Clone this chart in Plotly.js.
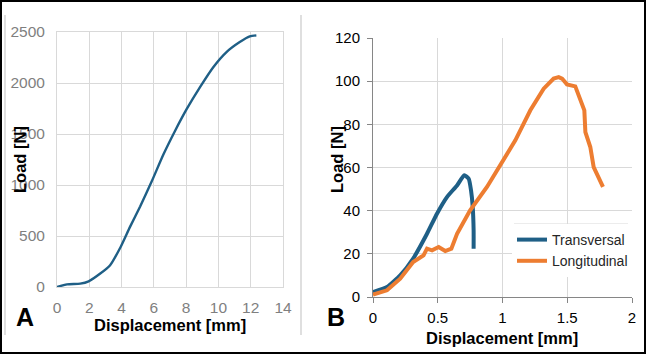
<!DOCTYPE html>
<html><head><meta charset="utf-8">
<script src="https://cdn.plot.ly/plotly-3.0.1.min.js"></script>
<style>html,body{margin:0;padding:0;background:#fff}#c{width:646px;height:354px}</style>
</head><body><div id="c"></div>
<script>
// Panel A
const aDisp = [0,0.62,1.44,1.96,2.68,3.29,3.95,4.53,5.15,5.87,6.59,7.31,8.03,8.85,9.68,10.5,11.32,11.94,12.35];
const aLoad = [0,26,33,56,132,214,395,592,790,1036,1299,1530,1743,1957,2155,2303,2401,2457,2467];
// Panel B
const tDisp = [0,0.108,0.21,0.31,0.417,0.494,0.571,0.649,0.705,0.739,0.757,0.77,0.777,0.777];
const tLoad = [2.3,4.6,10,17.8,29.3,38.6,46.3,51.7,56.4,54.8,49.4,41.7,30.9,22.4];
const lDisp = [0,0.108,0.21,0.31,0.39,0.417,0.456,0.507,0.558,0.605,0.649,0.75,0.88,1.009,1.099,1.215,1.318,1.395,1.434,1.46,1.498,1.562,1.601,1.632,1.64,1.678,1.704,1.743,1.776];
const lLoad = [1.1,3.1,8.5,16.2,19.3,22.4,21.6,23.2,21.3,22.4,29.3,40.2,51,63.3,72.6,86.5,96.5,101.2,101.9,101.2,98.5,97.6,91.9,86.5,76.4,69.5,60.2,55.6,51];
const seriesNames = ['Transversal','Longitudinal'];

const W=646,H=354;
const px=x=>x/W, py=y=>(H-y)/H;
const F='"Liberation Sans", Arial, sans-serif';
const blue='#1F5F86', orange='#ED7D31';

const traces=[
 {x:aDisp,y:aLoad,xaxis:'x',yaxis:'y',mode:'lines',line:{color:blue,width:2.4,shape:'spline',smoothing:0.6},showlegend:false,hoverinfo:'skip'},
 {x:tDisp,y:tLoad,xaxis:'x2',yaxis:'y2',mode:'lines',name:seriesNames[0],line:{color:blue,width:4,shape:'spline',smoothing:0.5}},
 {x:lDisp,y:lLoad,xaxis:'x2',yaxis:'y2',mode:'lines',name:seriesNames[1],line:{color:orange,width:4}}
];
const grid='#d9d9d9';
const ann=(t,x,y,s,a)=>({text:t,x:px(x),y:py(y),xref:'paper',yref:'paper',xanchor:'center',yanchor:'middle',showarrow:false,textangle:a||0,font:{size:s,color:'#000',family:F}});
const layout={
 width:W,height:H,margin:{l:0,r:0,t:0,b:0},paper_bgcolor:'#fff',plot_bgcolor:'#fff',
 font:{family:F},
 xaxis:{domain:[px(57),px(283)],range:[0,14],dtick:2,showgrid:true,gridcolor:grid,zeroline:false,
   showline:true,linecolor:grid,mirror:true,ticks:'',ticklabelstandoff:6,tickfont:{size:15.5,color:'#7f7f7f',family:F},anchor:'y',fixedrange:true},
 yaxis:{domain:[py(287),py(32)],range:[0,2500],dtick:500,showgrid:true,gridcolor:grid,zeroline:false,
   showline:true,linecolor:grid,mirror:true,ticks:'',ticklabelstandoff:8,tickfont:{size:15.5,color:'#7f7f7f',family:F},anchor:'x',fixedrange:true},
 xaxis2:{domain:[px(373),px(632)],range:[0,2],dtick:0.5,showgrid:true,gridcolor:grid,zeroline:false,
   showline:true,linecolor:'#868686',ticks:'outside',ticklen:5,tickcolor:'#868686',ticklabelstandoff:2,tickfont:{size:15,color:'#000',family:F},anchor:'y2',fixedrange:true},
 yaxis2:{domain:[py(297),py(38)],range:[0,120],dtick:20,showgrid:true,gridcolor:grid,zeroline:false,
   showline:true,linecolor:'#868686',ticks:'outside',ticklen:5,tickcolor:'#868686',ticklabelstandoff:4,tickfont:{size:15,color:'#000',family:F},anchor:'x2',fixedrange:true},
 showlegend:true,
 legend:{x:px(512),y:py(224),xanchor:'left',yanchor:'top',bgcolor:'#fff',borderwidth:0,
   font:{size:14,color:'#262626',family:F},itemwidth:30,tracegroupgap:0},
 annotations:[
  ann('<b>Displacement [mm]</b>',170,325,16.5),
  ann('<b>Load [N]</b>',20,160,16.5,-90),
  ann('<b>Displacement [mm]</b>',502,338,16.5),
  ann('<b>Load [N]</b>',337,160,16.5,-90),
  ann('<b>A</b>',25,317,25),
  ann('<b>B</b>',336,317,25)
 ],
 shapes:[
  {type:'rect',xref:'paper',yref:'paper',x0:0,x1:1,y0:0,y1:1,line:{color:'#000',width:4},layer:'above'},
  {type:'line',xref:'paper',yref:'paper',x0:px(5),x1:px(5),y0:py(335),y1:py(15),line:{color:'#bfbfbf',width:1}},
  {type:'line',xref:'paper',yref:'paper',x0:px(301),x1:px(301),y0:py(335),y1:py(15),line:{color:'#bfbfbf',width:1}},
  {type:'line',xref:'paper',yref:'paper',x0:px(514),x1:px(628),y0:py(224),y1:py(224),line:{color:grid,width:1},layer:'above'}
 ]
};
Plotly.newPlot('c',traces,layout,{displayModeBar:false,staticPlot:true});
</script></body></html>
